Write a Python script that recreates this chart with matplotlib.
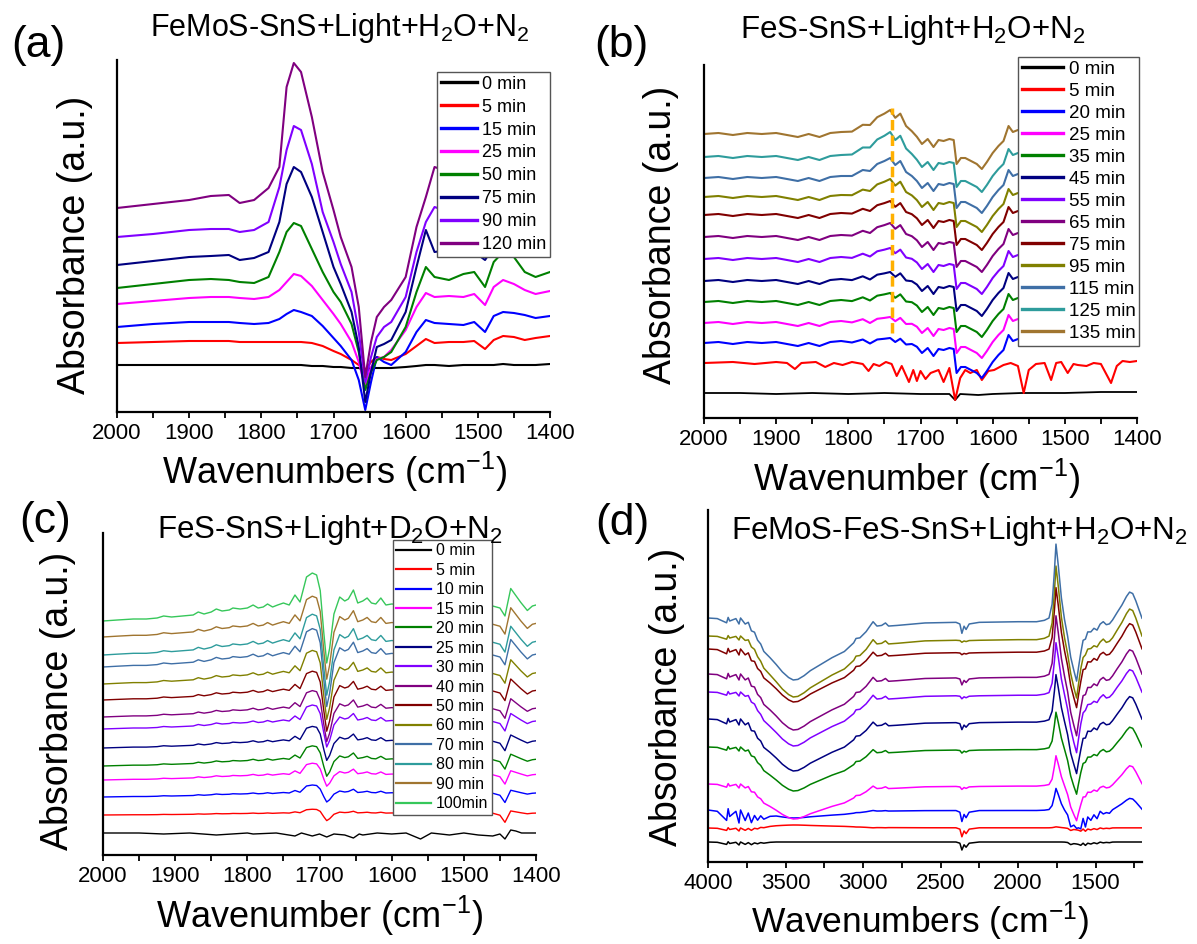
import numpy as np
import matplotlib
matplotlib.use("Agg")
import matplotlib.pyplot as plt
from matplotlib.ticker import MultipleLocator
from matplotlib.lines import Line2D

plt.rcParams['font.family'] = ['Liberation Sans', 'DejaVu Sans']
plt.rcParams['mathtext.fontset'] = 'custom'
plt.rcParams['mathtext.rm'] = 'Liberation Sans'
plt.rcParams['mathtext.it'] = 'Liberation Sans:italic'

# ---------------- colours ----------------
C = {'k': '#000000', 'r': '#FF0000', 'b': '#0000FF', 'm': '#FF00FF', 'g': '#008000',
     'navy': '#000080', 'vio': '#8000FF', 'pur': '#800080', 'wine': '#800000',
     'olive': '#808000', 'steel': '#3F6FA6', 'teal': '#2E9C9C', 'brown': '#A07530',
     'lg': '#36C75A'}

# ---------------- (a) FeMoS-SnS, H2O ----------------
a_wn = [2000, 1950, 1900, 1870, 1845, 1830, 1810, 1790, 1775, 1765, 1755, 1745, 1730,
        1715, 1700, 1690, 1675, 1665, 1656, 1648, 1640, 1630, 1620, 1600, 1585, 1572,
        1560, 1540, 1520, 1505, 1490, 1478, 1465, 1450, 1435, 1420, 1400]
a_labels = ['0 min', '5 min', '15 min', '25 min', '50 min', '75 min', '90 min', '120 min']
a_colors = [C['k'], C['r'], C['b'], C['m'], C['g'], C['navy'], C['vio'], C['pur']]
a_0 = [47, 47, 47, 47, 47, 47, 47, 47, 47, 47, 47, 47, 46, 46, 45, 45, 44, 44, 42, 44, 44,
       44, 44, 45, 46, 47, 47, 46, 47, 47, 47, 47, 48, 47, 47, 47, 48]
a_5 = [69, 70, 71, 71, 71, 70, 70, 70, 70, 70, 70, 70, 69, 66, 61, 58, 52, 47, 42, 50, 55,
       53, 52, 58, 66, 73, 69, 70, 70, 71, 63, 72, 76, 75, 72, 74, 76]
a_15 = [85, 88, 90, 90, 90, 89, 88, 89, 93, 98, 102, 100, 96, 86, 74, 66, 52, 32, 2, 30, 55,
        50, 47, 60, 80, 92, 89, 88, 87, 90, 80, 96, 100, 99, 97, 94, 96]
a_25 = [108, 111, 114, 115, 115, 114, 113, 115, 122, 130, 138, 136, 126, 112, 98, 88, 70, 50,
        25, 45, 53, 55, 62, 82, 105, 119, 115, 116, 115, 118, 107, 125, 132, 128, 122, 118, 121]
a_50 = [124, 128, 132, 133, 132, 130, 129, 135, 160, 180, 189, 186, 163, 140, 120, 110, 88, 60,
        22, 40, 52, 55, 60, 85, 120, 145, 135, 132, 138, 140, 125, 150, 160, 155, 140, 135, 140]
a_75 = [147, 151, 155, 156, 157, 152, 154, 160, 190, 228, 245, 240, 215, 180, 145, 128, 100, 65,
        10, 40, 65, 68, 72, 100, 145, 182, 160, 162, 165, 160, 152, 165, 170, 160, 165, 160, 166]
a_90 = [175, 178, 182, 183, 183, 180, 182, 190, 225, 262, 286, 282, 248, 200, 170, 148, 120, 80,
        30, 55, 75, 85, 90, 115, 160, 190, 205, 200, 200, 200, 190, 205, 210, 205, 200, 198, 200]
a_120 = [204, 208, 212, 216, 217, 209, 212, 224, 245, 325, 349, 340, 295, 240, 202, 175, 145, 105,
         35, 70, 95, 105, 112, 135, 185, 215, 245, 240, 240, 240, 230, 245, 250, 245, 240, 238, 240]
a_series = [a_0, a_5, a_15, a_25, a_50, a_75, a_90, a_120]

# ---------------- (b) FeS-SnS, H2O ----------------
b_wn = [2000, 1980, 1960, 1940, 1920, 1900, 1885, 1870, 1855, 1840, 1825, 1810, 1795, 1780,
        1770, 1760, 1750, 1742, 1735, 1728, 1720, 1712, 1705, 1698, 1690, 1682, 1675, 1668,
        1660, 1654, 1650, 1644, 1638, 1630, 1622, 1615, 1608, 1600, 1592, 1585, 1578, 1572,
        1565, 1555, 1540, 1520, 1500, 1480, 1460, 1440, 1420, 1400]
b_shape = [0, 1, -1, 1, 0, 1, -1, -3, 0, -3, 1, 2, 0, 2, -3, 0, 0, 0, -3, 0, -4, -2, -4, -10,
           -5, -13, -6, -7, -5, -6, -30, -24, -24, -27, -30, -35, -28, -19, -12, -7, 8, 2, 4,
           0, 0, 3, -2, 2, 0, 2, 0, 2]
b_hump = [0, 0, 0, 0, 0, 0, 0, 0, 0, 0, 0, 0, 0.1, 0.3, 0.5, 0.7, 0.85, 1.0, 0.8, 0.85, 0.5,
          0.2, 0.05, 0, 0, 0, 0, 0, 0, 0, 0, 0, 0, 0, 0, 0, 0, 0, 0, 0, 0, 0, 0, 0, 0, 0, 0,
          0, 0, 0, 0, 0]
b_labels = ['0 min', '5 min', '20 min', '25 min', '35 min', '45 min', '55 min', '65 min',
            '75 min', '95 min', '115 min', '125 min', '135 min']
b_colors = [C['k'], C['r'], C['b'], C['m'], C['g'], C['navy'], C['vio'], C['pur'], C['wine'],
            C['olive'], C['steel'], C['teal'], C['brown']]
b_offsets = [75, 95, 116, 137, 159, 181, 203, 221, 240, 261, 284]   # 20 .. 135 min
b_hump_amp = [5, 6, 9, 9, 11, 14, 14, 18, 20, 25, 24]
b_red_wn = [2000, 1960, 1930, 1900, 1885, 1874, 1865, 1845, 1832, 1820, 1808, 1795, 1780, 1772,
            1765, 1757, 1748, 1740, 1733, 1726, 1716, 1710, 1705, 1700, 1693, 1686, 1675, 1668,
            1660, 1652, 1645, 1638, 1631, 1622, 1615, 1606, 1598, 1585, 1575, 1565, 1557, 1550,
            1540, 1528, 1519, 1512, 1505, 1496, 1488, 1482, 1470, 1460, 1450, 1436, 1428, 1420,
            1410, 1400]
b_red = [55, 56, 54, 56, 55, 49, 55, 56, 51, 55, 53, 56, 54, 47, 54, 52, 56, 54, 42, 52, 36, 48,
         37, 47, 39, 45, 48, 36, 50, 18, 40, 48, 45, 48, 38, 47, 48, 53, 55, 52, 25, 48, 54, 55,
         38, 55, 56, 45, 54, 53, 52, 55, 54, 35, 52, 57, 56, 57]
b_black_wn = [2000, 1950, 1900, 1850, 1800, 1750, 1700, 1660, 1652, 1645, 1620, 1600, 1560,
              1500, 1450, 1400]
b_black = [25, 25, 24, 25, 24, 25, 24, 24, 18, 24, 23, 24, 25, 25, 26, 26]
b_marker_wn = 1739
b_marker_h = [85, 310]

# ---------------- (c) FeS-SnS, D2O ----------------
c_wn = [2000, 1980, 1958, 1940, 1925, 1916, 1905, 1890, 1875, 1868, 1860, 1850, 1843, 1835,
        1825, 1820, 1810, 1800, 1792, 1785, 1778, 1772, 1765, 1758, 1750, 1742, 1734, 1727,
        1718, 1710, 1704, 1699, 1694, 1690, 1686, 1680, 1672, 1665, 1660, 1653, 1647, 1640,
        1634, 1628, 1622, 1615, 1608, 1600, 1580, 1550, 1520, 1490, 1460, 1450, 1443, 1435,
        1428, 1421, 1412, 1405, 1400]
c_feat = [0, 1, 2, 2, 3, 5, 4, 5, 6, 9, 7, 9, 12, 10, 11, 13, 12, 13, 16, 13, 14, 17, 14, 16,
          18, 16, 26, 19, 44, 48, 46, 34, 30, 28, 25, 21, 24, 20, 22, 31, 18, 20, 23, 18, 17,
          23, 16, 17, 16, 16, 16, 16, 15, 15, 14, 15, 15, 15, 14, 15, 16]
c_dip = [0] * 31 + [-0.05, -0.6, -1.0, -0.75, -0.2] + [0] * 19 + [0.25, 0.15, 0.05, -0.05, 0, 0]
c_fixed = [0] * 53 + [-2, -9] + [0] * 6
c_labels = ['0 min', '5 min', '10 min', '15 min', '20 min', '25 min', '30 min', '40 min',
            '50 min', '60 min', '70 min', '80 min', '90 min', '100min']
c_colors = [C['k'], C['r'], C['b'], C['m'], C['g'], C['navy'], C['vio'], C['pur'], C['wine'],
            C['olive'], C['steel'], C['teal'], C['brown'], C['lg']]
c_offsets = [40, 58, 75, 89, 107, 126, 138, 155, 171, 188, 200, 218, 234]   # 5 .. 100 min
c_scale = [0.12, 0.25, 0.35, 0.42, 0.45, 0.5, 0.55, 0.6, 0.7, 0.8, 0.85, 0.85, 1.0]
c_depth = [9, 12, 16, 22, 25, 32, 40, 48, 55, 62, 64, 66, 70]
c_black_wn = [2000, 1950, 1916, 1880, 1843, 1800, 1792, 1760, 1734, 1725, 1710, 1700, 1690,
              1680, 1665, 1653, 1645, 1640, 1620, 1600, 1580, 1560, 1545, 1520, 1500, 1480,
              1460, 1450, 1443, 1435, 1428, 1420, 1400]
c_black = [22, 22, 21, 22, 20, 22, 21, 22, 19, 22, 19, 21, 18, 21, 20, 17, 21, 20, 22, 21, 22,
           16, 22, 20, 22, 20, 19, 21, 16, 25, 24, 22, 22]

# ---------------- (d) FeMoS-FeS-SnS, H2O ----------------
d_wn = [4000, 3940, 3880, 3870, 3860, 3820, 3800, 3790, 3760, 3740, 3720, 3700, 3680, 3660,
        3640, 3600, 3560, 3520, 3480, 3450, 3420, 3380, 3340, 3280, 3200, 3120, 3060, 3045,
        3020, 2980, 2935, 2910, 2880, 2855, 2835, 2780, 2600, 2400, 2375, 2362, 2348, 2335,
        2315, 2250, 2000, 1880, 1830, 1800, 1780, 1765, 1755, 1740, 1720, 1700, 1680, 1660,
        1640, 1622, 1610, 1595, 1580, 1565, 1550, 1530, 1510, 1490, 1470, 1450, 1430, 1410,
        1390, 1360, 1330, 1300, 1280, 1260, 1240, 1220, 1200]
d_oh = ([0, 0, 0, 0, 0, 0, 0, 0, -0.02, -0.05, -0.12, -0.2, -0.3, -0.4, -0.5, -0.63, -0.75,
         -0.87, -0.96, -1.0, -0.99, -0.93, -0.85, -0.76, -0.64, -0.54, -0.4, -0.33, -0.32, -0.22,
         -0.06, -0.13, -0.12, -0.08, -0.13, -0.12, -0.08, -0.07, -0.07, -0.07, -0.07, -0.07,
         -0.07, -0.07, -0.06, -0.06] + [-0.05] * 33)
d_peak = [0] * 46 + [0.01, 0.04, 0.22, 0.65, 1.0, 0.72, 0.3, 0.06] + [0] * 25
d_min = ([0] * 53 + [-0.05, -0.25, -0.55, -0.82, -1.0, -0.75, -0.45, -0.3, -0.2, -0.15, -0.12,
         -0.1, -0.1, -0.05, 0.02, -0.05, -0.05, -0.03] + [0] * 8)
d_bump = [0] * 69 + [0.05, 0.1, 0.3, 0.55, 0.85, 1.0, 0.95, 0.7, 0.4, 0.1]
d_co2 = [0] * 38 + [-0.15, -1.0, -0.35, -0.65, -0.15] + [0] * 36
d_noise = ([0, -1, -8, 1, -5, -1, -10, 0, -8, -2, -9, -3, -6, -2, -4, -1] + [0] * 39
           + [-5, 0, 0, -3, -8, -2, -10, -3, -6, -2, -5, 0, -3, -1, -2] + [0] * 9)
d_colors = [C['k'], C['r'], C['b'], C['m'], C['g'], C['navy'], C['vio'], C['pur'], C['wine'],
            C['olive'], C['steel']]
d_base = [20, 34, 52, 78, 115, 143, 170, 188, 213, 226, 244]
d_oh_amp = [0, -3, 8, 35, 44, 52, 54, 56, 53, 61, 62]
d_peak_amp = [0, 1, 22, 30, 37, 47, 52, 61, 64, 73, 77]
d_min_amp = [2, 2, 18, 35, 45, 52, 58, 59, 56, 59, 60]
d_bump_amp = [0, 0, 12, 20, 22, 25, 25, 27, 28, 30, 29]
d_co2_amp = [8, 9, 11, 3, 3, 7, 3, 7, 2, 2, 11]
d_noise_amp = [0.3, 0.3, 1.3, 0.4, 0.4, 0.6, 0.4, 0.6, 0.6, 0.4, 0.6]

W, H = 1197, 944
fig = plt.figure(figsize=(W / 100, H / 100), dpi=100)


def px_axes(x0, x1, ytop, ybot):
    return fig.add_axes([x0 / W, 1 - ybot / H, (x1 - x0) / W, (ybot - ytop) / H])


def ftext(x, y, s, size, rot=0):
    fig.text(x / W, 1 - y / H, s, fontsize=size, ha='center', va='center', rotation=rot)


def style(ax, xlim, ylim, major, minor):
    ax.set_xlim(xlim)
    ax.set_ylim(ylim)
    for s in ['top', 'right']:
        ax.spines[s].set_visible(False)
    for s in ['left', 'bottom']:
        ax.spines[s].set_linewidth(1.6)
    ax.set_yticks([])
    ax.xaxis.set_major_locator(MultipleLocator(major))
    ax.xaxis.set_minor_locator(MultipleLocator(minor))
    ax.tick_params(axis='x', which='both', direction='out', length=4, width=1.3,
                   labelsize=16, pad=4)
    ax.patch.set_alpha(0)


def legend(ax, colors, labels, x, y, size, lw, spacing, hlen=2.2):
    handles = [Line2D([], [], color=c, lw=lw) for c in colors]
    leg = ax.legend(handles, labels, loc='upper left', bbox_to_anchor=(x / W, 1 - y / H),
                    bbox_transform=fig.transFigure, fontsize=size, frameon=True,
                    fancybox=False, framealpha=1, edgecolor='#555555', borderpad=0.2,
                    handlelength=hlen, handletextpad=0.3, labelspacing=spacing,
                    borderaxespad=0)
    leg.get_frame().set_linewidth(1.0)


sub2 = r'$_\mathregular{2}$'
cm = r' (cm$^\mathregular{-1}$)'

# ---- panel (a)
ax = px_axes(117, 550, 60, 412)
for y, col in zip(a_series, a_colors):
    ax.plot(a_wn, y, color=col, lw=1.5)
style(ax, (2000, 1400), (0, 352), 100, 50)
legend(ax, a_colors, a_labels, 437, 72, 13, 2.4, 0.33, hlen=2.0)
ftext(38, 45, '(a)', 32)
ftext(340, 28, 'FeMoS-SnS+Light+H' + sub2 + 'O+N' + sub2, 22)
ftext(75, 245, 'Absorbance (a.u.)', 27, rot=90)
ftext(335, 472, 'Wavenumbers' + cm, 26)

# ---- panel (b)
ax = px_axes(704, 1137, 65, 418)
ax.plot(b_black_wn, b_black, color=C['k'], lw=1.3)
ax.plot(b_red_wn, b_red, color=C['r'], lw=1.5)
for off, amp, col in zip(b_offsets, b_hump_amp, b_colors[2:]):
    y = off + np.array(b_shape) + amp * np.array(b_hump)
    ax.plot(b_wn, y, color=col, lw=1.5)
ax.plot([b_marker_wn, b_marker_wn], b_marker_h, color='#FFB000', lw=2.5, ls=(0, (3, 1.5)))
style(ax, (2000, 1400), (0, 353), 100, 50)
legend(ax, b_colors, b_labels, 1018, 57, 13.5, 2.4, 0.26)
ftext(621, 46, '(b)', 32)
ftext(913, 30, 'FeS-SnS+Light+H' + sub2 + 'O+N' + sub2, 22.5)
ftext(661, 235, 'Absorbance (a.u.)', 27, rot=90)
ftext(917, 479, 'Wavenumber' + cm, 26)

# ---- panel (c)
ax = px_axes(103, 536, 533, 855)
ax.plot(c_black_wn, c_black, color=C['k'], lw=1.0)
for off, s, d, col in zip(c_offsets, c_scale, c_depth, c_colors[1:]):
    y = off + s * np.array(c_feat) + d * np.array(c_dip) + np.array(c_fixed)
    ax.plot(c_wn, y, color=col, lw=1.0)
style(ax, (2000, 1400), (0, 322), 100, 50)
legend(ax, c_colors, c_labels, 393, 540, 11.5, 1.6, 0.28)
ftext(45, 522, '(c)', 32)
ftext(330, 530, 'FeS-SnS+Light+D' + sub2 + 'O+N' + sub2, 22.5)
ftext(58, 701, 'Absorbance (a.u.)', 27, rot=90)
ftext(320, 916, 'Wavenumber' + cm, 26)

# ---- panel (d)
ax = px_axes(708, 1142, 510, 862)
for i, col in enumerate(d_colors):
    y = (d_base[i] + d_oh_amp[i] * np.array(d_oh) + d_peak_amp[i] * np.array(d_peak)
         + d_min_amp[i] * np.array(d_min) + d_bump_amp[i] * np.array(d_bump)
         + d_co2_amp[i] * np.array(d_co2) + d_noise_amp[i] * np.array(d_noise))
    ax.plot(d_wn, y, color=col, lw=1.1)
style(ax, (4000, 1200), (0, 352), 500, 250)
ftext(622, 523, '(d)', 32)
ftext(959, 531, 'FeMoS-FeS-SnS+Light+H' + sub2 + 'O+N' + sub2, 22.5)
ftext(667, 697, 'Absorbance (a.u.)', 27, rot=90)
ftext(920, 921, 'Wavenumbers' + cm, 25.5)

fig.savefig('out.png', dpi=100)
